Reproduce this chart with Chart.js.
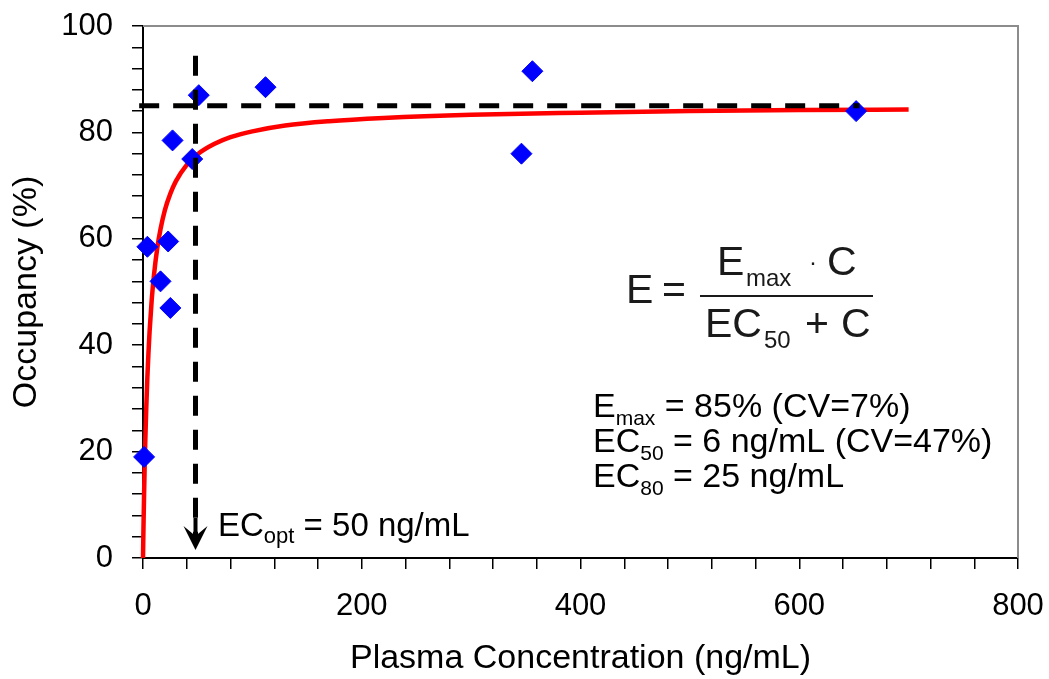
<!DOCTYPE html>
<html>
<head>
<meta charset="utf-8">
<script src="https://cdn.jsdelivr.net/npm/chart.js@4.4.1/dist/chart.umd.min.js"></script>
<style>
  html, body { margin: 0; padding: 0; background: #fff; }
  #wrap { width: 1049px; height: 679px; }
</style>
</head>
<body>
<div id="wrap"><canvas id="myChart" width="1049" height="679"></canvas></div>
<script>
// observed data (plasma conc in ng/mL, occupancy in %)
var obsConc = [1, 4, 16, 23, 25, 27, 45, 51, 112, 346, 356, 652];
var obsOcc = [19, 58.5, 52, 59.5, 47, 78.5, 75, 87, 88.5, 76, 91.5, 84];

// fitted Emax curve
var fitConc = [0, 0.5, 1, 1.5, 2, 3, 4, 5, 6, 8, 10, 13, 16, 20, 25, 30, 40, 50, 65, 80, 100, 130, 170, 220, 300, 400, 500, 600, 700];
var fitOcc = [0, 6.5, 12.1, 17, 21.3, 28.3, 34, 38.6, 42.5, 48.6, 53.1, 58.2, 61.8, 65.4, 68.5, 70.8, 73.9, 75.9, 77.8, 79.1, 80.2, 81.3, 82.1, 82.7, 83.3, 83.7, 84, 84.2, 84.3];

// reference lines
var emaxLineX = [-3.5, 655];
var emaxLineY = [85, 85];
var optLineX = [48, 48];
var optLineY = [94.4, 4];
var arrowTip = 1.5;

var yTicks = [0, 20, 40, 60, 80, 100];
var xTicks = [0, 200, 400, 600, 800];

function pts(xs, ys) {
	return xs.map(function (x, i) { return { x: x, y: ys[i] }; });
}

var FONT = "'Liberation Sans', Arial, sans-serif";

// draws text pieces in a row, some as subscripts
function rich(ctx, parts, x, y, size, subSize, subDrop) {
	parts.forEach(function (p) {
		ctx.font = (p.sub ? subSize : size) + 'px ' + FONT;
		ctx.fillText(p.t, x, p.sub ? y + subDrop : y);
		x += ctx.measureText(p.t).width;
	});
}

var extras = {
	id: 'extras',
	afterDatasetsDraw: function (chart) {
		var ctx = chart.ctx;
		var xs = chart.scales.x, ys = chart.scales.y;
		var a = chart.chartArea;
		ctx.save();
		// arrow head at the end of the EC_opt line
		var ax = xs.getPixelForValue(optLineX[0]);
		var ay = ys.getPixelForValue(arrowTip);
		ctx.fillStyle = '#000';
		ctx.beginPath();
		ctx.moveTo(ax, ay);
		ctx.lineTo(ax - 12, ay - 24);
		ctx.lineTo(ax, ay - 14);
		ctx.lineTo(ax + 12, ay - 24);
		ctx.closePath();
		ctx.fill();
		ctx.fillRect(ax - 2, ay - 32, 4, 20);
		// grey frame top and right
		ctx.strokeStyle = '#8c8c8c';
		ctx.lineWidth = 2;
		ctx.beginPath();
		ctx.moveTo(a.left, a.top);
		ctx.lineTo(a.right, a.top);
		ctx.lineTo(a.right, a.bottom);
		ctx.stroke();
		ctx.restore();
	},
	afterDraw: function (chart) {
		var ctx = chart.ctx;
		ctx.save();
		ctx.fillStyle = '#000';
		ctx.textBaseline = 'alphabetic';
		ctx.textAlign = 'left';

		// EC_opt label
		rich(ctx, [{ t: 'EC' }, { t: 'opt', sub: true }, { t: ' = 50 ng/mL' }], 218, 536, 33, 22, 7);

		// parameter estimates
		rich(ctx, [{ t: 'E' }, { t: 'max', sub: true }, { t: ' = 85% (CV=7%)' }], 593, 417, 34, 21, 8);
		rich(ctx, [{ t: 'EC' }, { t: '50', sub: true }, { t: ' = 6 ng/mL (CV=47%)' }], 593, 452, 34, 21, 8);
		rich(ctx, [{ t: 'EC' }, { t: '80', sub: true }, { t: ' = 25 ng/mL' }], 593, 487, 34, 21, 8);

		// Emax model equation
		ctx.fillStyle = '#1a1a1a';
		ctx.font = '41px ' + FONT;
		ctx.fillText('E', 626, 303);
		ctx.fillText('=', 662, 303);
		ctx.fillText('E', 717, 275);
		ctx.fillText('C', 827, 275);
		ctx.fillText('EC', 705, 337);
		ctx.fillText('+', 805, 337);
		ctx.fillText('C', 841, 337);
		ctx.font = '24px ' + FONT;
		ctx.fillText('max', 746, 286);
		ctx.fillText('50', 764, 348);
		ctx.fillText('\u00b7', 809, 270);
		ctx.fillRect(700, 295, 173, 2);
		ctx.restore();
	}
};

var ctx = document.getElementById('myChart').getContext('2d');
var myChart = new Chart(ctx, {
	type: 'scatter',
	data: {
		datasets: [{
			label: 'Emax',
			data: pts(emaxLineX, emaxLineY),
			showLine: true,
			borderColor: '#000',
			borderWidth: 5,
			borderDash: [20, 14],
			pointRadius: 0,
			clip: false,
			order: 0
		}, {
			label: 'ECopt',
			data: pts(optLineX, optLineY),
			showLine: true,
			borderColor: '#000',
			borderWidth: 5,
			borderDash: [20, 14],
			pointRadius: 0,
			clip: false,
			order: 0
		}, {
			label: 'Observed',
			data: pts(obsConc, obsOcc),
			pointStyle: 'rectRot',
			pointRadius: 10.5,
			backgroundColor: '#0000ff',
			borderColor: '#0000ff',
			borderWidth: 1,
			clip: false,
			order: 1
		}, {
			label: 'Fit',
			data: pts(fitConc, fitOcc),
			showLine: true,
			cubicInterpolationMode: 'monotone',
			borderColor: '#ff0000',
			borderWidth: 4.5,
			pointRadius: 0,
			clip: false,
			order: 2
		}]
	},
	options: {
		responsive: false,
		animation: false,
		events: [],
		layout: { padding: { top: 26, right: 31, left: 0, bottom: 0 } },
		plugins: {
			legend: { display: false },
			tooltip: { enabled: false }
		},
		scales: {
			x: {
				type: 'linear',
				min: 0,
				max: 800,
				afterFit: function (s) {
					s.height = 121;
					s.paddingLeft = 0;
					s.paddingRight = 0;
				},
				afterBuildTicks: function (s) {
					s.ticks = [];
					for (var v = 0; v <= 800; v += 40) s.ticks.push({ value: v });
				},
				ticks: {
					autoSkip: false,
					maxRotation: 0,
					padding: 19,
					color: '#000',
					font: { family: FONT, size: 31 },
					callback: function (v) { return xTicks.indexOf(v) >= 0 ? String(v) : ''; }
				},
				grid: { drawOnChartArea: false, drawTicks: true, tickLength: 11, color: '#000', lineWidth: 1.5 },
				border: { color: '#000', width: 2 },
				title: {
					display: true,
					text: 'Plasma Concentration (ng/mL)',
					color: '#000',
					font: { family: FONT, size: 34 },
					padding: { top: 0, bottom: 0 }
				}
			},
			y: {
				min: 0,
				max: 100,
				afterFit: function (s) {
					s.width = 143;
					s.paddingTop = 0;
					s.paddingBottom = 0;
				},
				afterBuildTicks: function (s) {
					s.ticks = [];
					for (var v = 0; v <= 100; v += 4) s.ticks.push({ value: v });
				},
				ticks: {
					autoSkip: false,
					padding: 19,
					color: '#000',
					font: { family: FONT, size: 31 },
					callback: function (v) { return yTicks.indexOf(v) >= 0 ? String(v) : ''; }
				},
				grid: { drawOnChartArea: false, drawTicks: true, tickLength: 11, color: '#000', lineWidth: 1.5 },
				border: { color: '#000', width: 2 },
				title: {
					display: true,
					text: 'Occupancy (%)',
					color: '#000',
					font: { family: FONT, size: 34 },
					padding: { top: 6, bottom: 0 }
				}
			}
		}
	},
	plugins: [extras]
});
</script>
</body>
</html>
